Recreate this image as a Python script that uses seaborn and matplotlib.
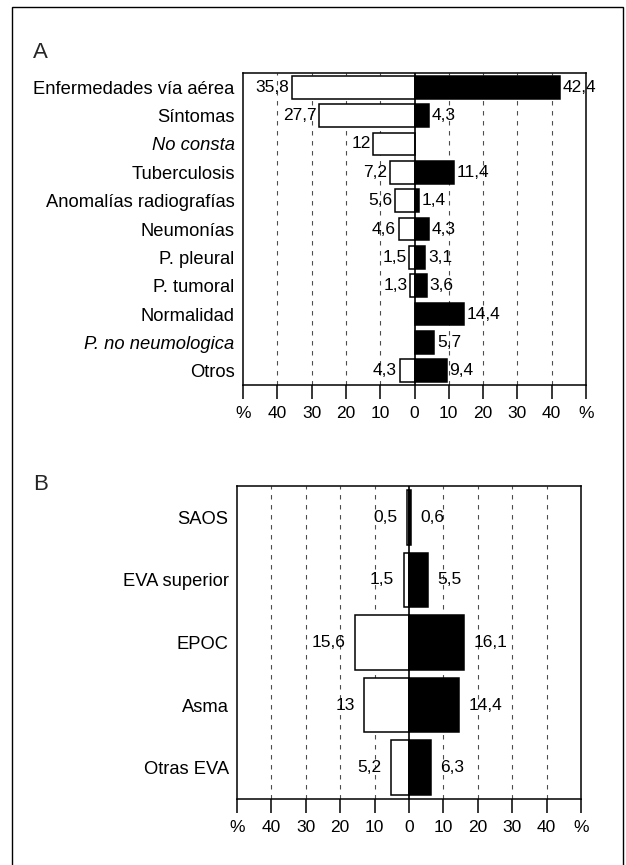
import numpy as np
import pandas as pd
import matplotlib
matplotlib.use("Agg")
import matplotlib.pyplot as plt
from matplotlib.patches import Rectangle
import seaborn as sns

# ---------------- data ----------------
A_cats = ["Enfermedades vía aérea", "Síntomas", "No consta", "Tuberculosis",
          "Anomalías radiografías", "Neumonías", "P. pleural", "P. tumoral",
          "Normalidad", "P. no neumologica", "Otros"]
A_left = [35.8, 27.7, 12, 7.2, 5.6, 4.6, 1.5, 1.3, np.nan, np.nan, 4.3]
A_right = [42.4, 4.3, np.nan, 11.4, 1.4, 4.3, 3.1, 3.6, 14.4, 5.7, 9.4]
A_italic = ["No consta", "P. no neumologica"]

B_cats = ["SAOS", "EVA superior", "EPOC", "Asma", "Otras EVA"]
B_left = [0.5, 1.5, 15.6, 13, 5.2]
B_right = [0.6, 5.5, 16.1, 14.4, 6.3]

tick_vals = [-50, -40, -30, -20, -10, 0, 10, 20, 30, 40, 50]
tick_labels = ["%", "40", "30", "20", "10", "0", "10", "20", "30", "40", "%"]

# ---------------- style ----------------
sns.set_theme(style="white")
plt.rcParams["font.family"] = ["Liberation Sans", "DejaVu Sans"]

W, H = 626, 865
fig = plt.figure(figsize=(W / 100, H / 100), dpi=100)


def rect(l, r, t, b):
    return [l / W, 1 - b / H, (r - l) / W, (b - t) / H]


def fmt(v):
    return f"{v:g}".replace(".", ",")


FS = 12.5
FS_CAT = 13.2


def draw(ax, cats, left, right, width, italic, gap):
    n = len(cats)
    df = pd.DataFrame({
        "cat": cats * 2,
        "side": ["L"] * n + ["R"] * n,
        "val": [-v for v in left] + list(right),
    })
    sns.barplot(data=df, y="cat", x="val", hue="side", dodge=False,
                palette={"L": "white", "R": "black"}, edgecolor="black",
                linewidth=1.1, width=width, ax=ax, legend=False, orient="h",
                order=cats, zorder=2)
    ax.set_xlim(-50, 50)
    ax.set_ylim(n - 0.5, -0.5)
    for x in [-40, -30, -20, -10, 10, 20, 30, 40]:
        ax.axvline(x, ls=(0, (4, 5)), lw=0.8, color="0.3", zorder=0.5)
    ax.axvline(0, color="black", lw=1.2, zorder=3)
    for i, v in enumerate(left):
        if not np.isnan(v):
            ax.annotate(fmt(v), xy=(-v, i), xytext=(-gap, 0),
                        textcoords="offset points", ha="right", va="center",
                        fontsize=FS, color="black")
    for i, v in enumerate(right):
        if not np.isnan(v):
            ax.annotate(fmt(v), xy=(v, i), xytext=(gap, 0),
                        textcoords="offset points", ha="left", va="center",
                        fontsize=FS, color="black")
    ax.set_xticks(tick_vals)
    ax.set_xticklabels(tick_labels)
    ax.set_xlabel("")
    ax.set_ylabel("")
    ax.tick_params(axis="x", direction="out", length=10, width=1.1,
                   color="black", pad=5, labelsize=FS, bottom=True,
                   labelcolor="black")
    ax.tick_params(axis="y", length=0, pad=6, labelsize=FS_CAT,
                   labelcolor="black")
    for lbl in ax.get_yticklabels():
        if lbl.get_text() in italic:
            lbl.set_style("italic")
    for s in ax.spines.values():
        s.set_color("black")
        s.set_linewidth(1.1)


axA = fig.add_axes(rect(243, 586, 73, 385))
draw(axA, A_cats, A_left, A_right, 0.8, A_italic, 2)

axB = fig.add_axes(rect(237, 581, 486, 799))
draw(axB, B_cats, B_left, B_right, 0.87, [], 7)

fig.text(33 / W, 1 - 53 / H, "A", fontsize=16, va="center", ha="left")
fig.text(33 / W, 1 - 485 / H, "B", fontsize=16, va="center", ha="left")

fig.add_artist(Rectangle((12 / W, -0.02), (623 - 12) / W, 1 - 7 / H + 0.02,
                         fill=False, lw=1.0, ec="black",
                         transform=fig.transFigure))

fig.savefig("out.png", dpi=100)
